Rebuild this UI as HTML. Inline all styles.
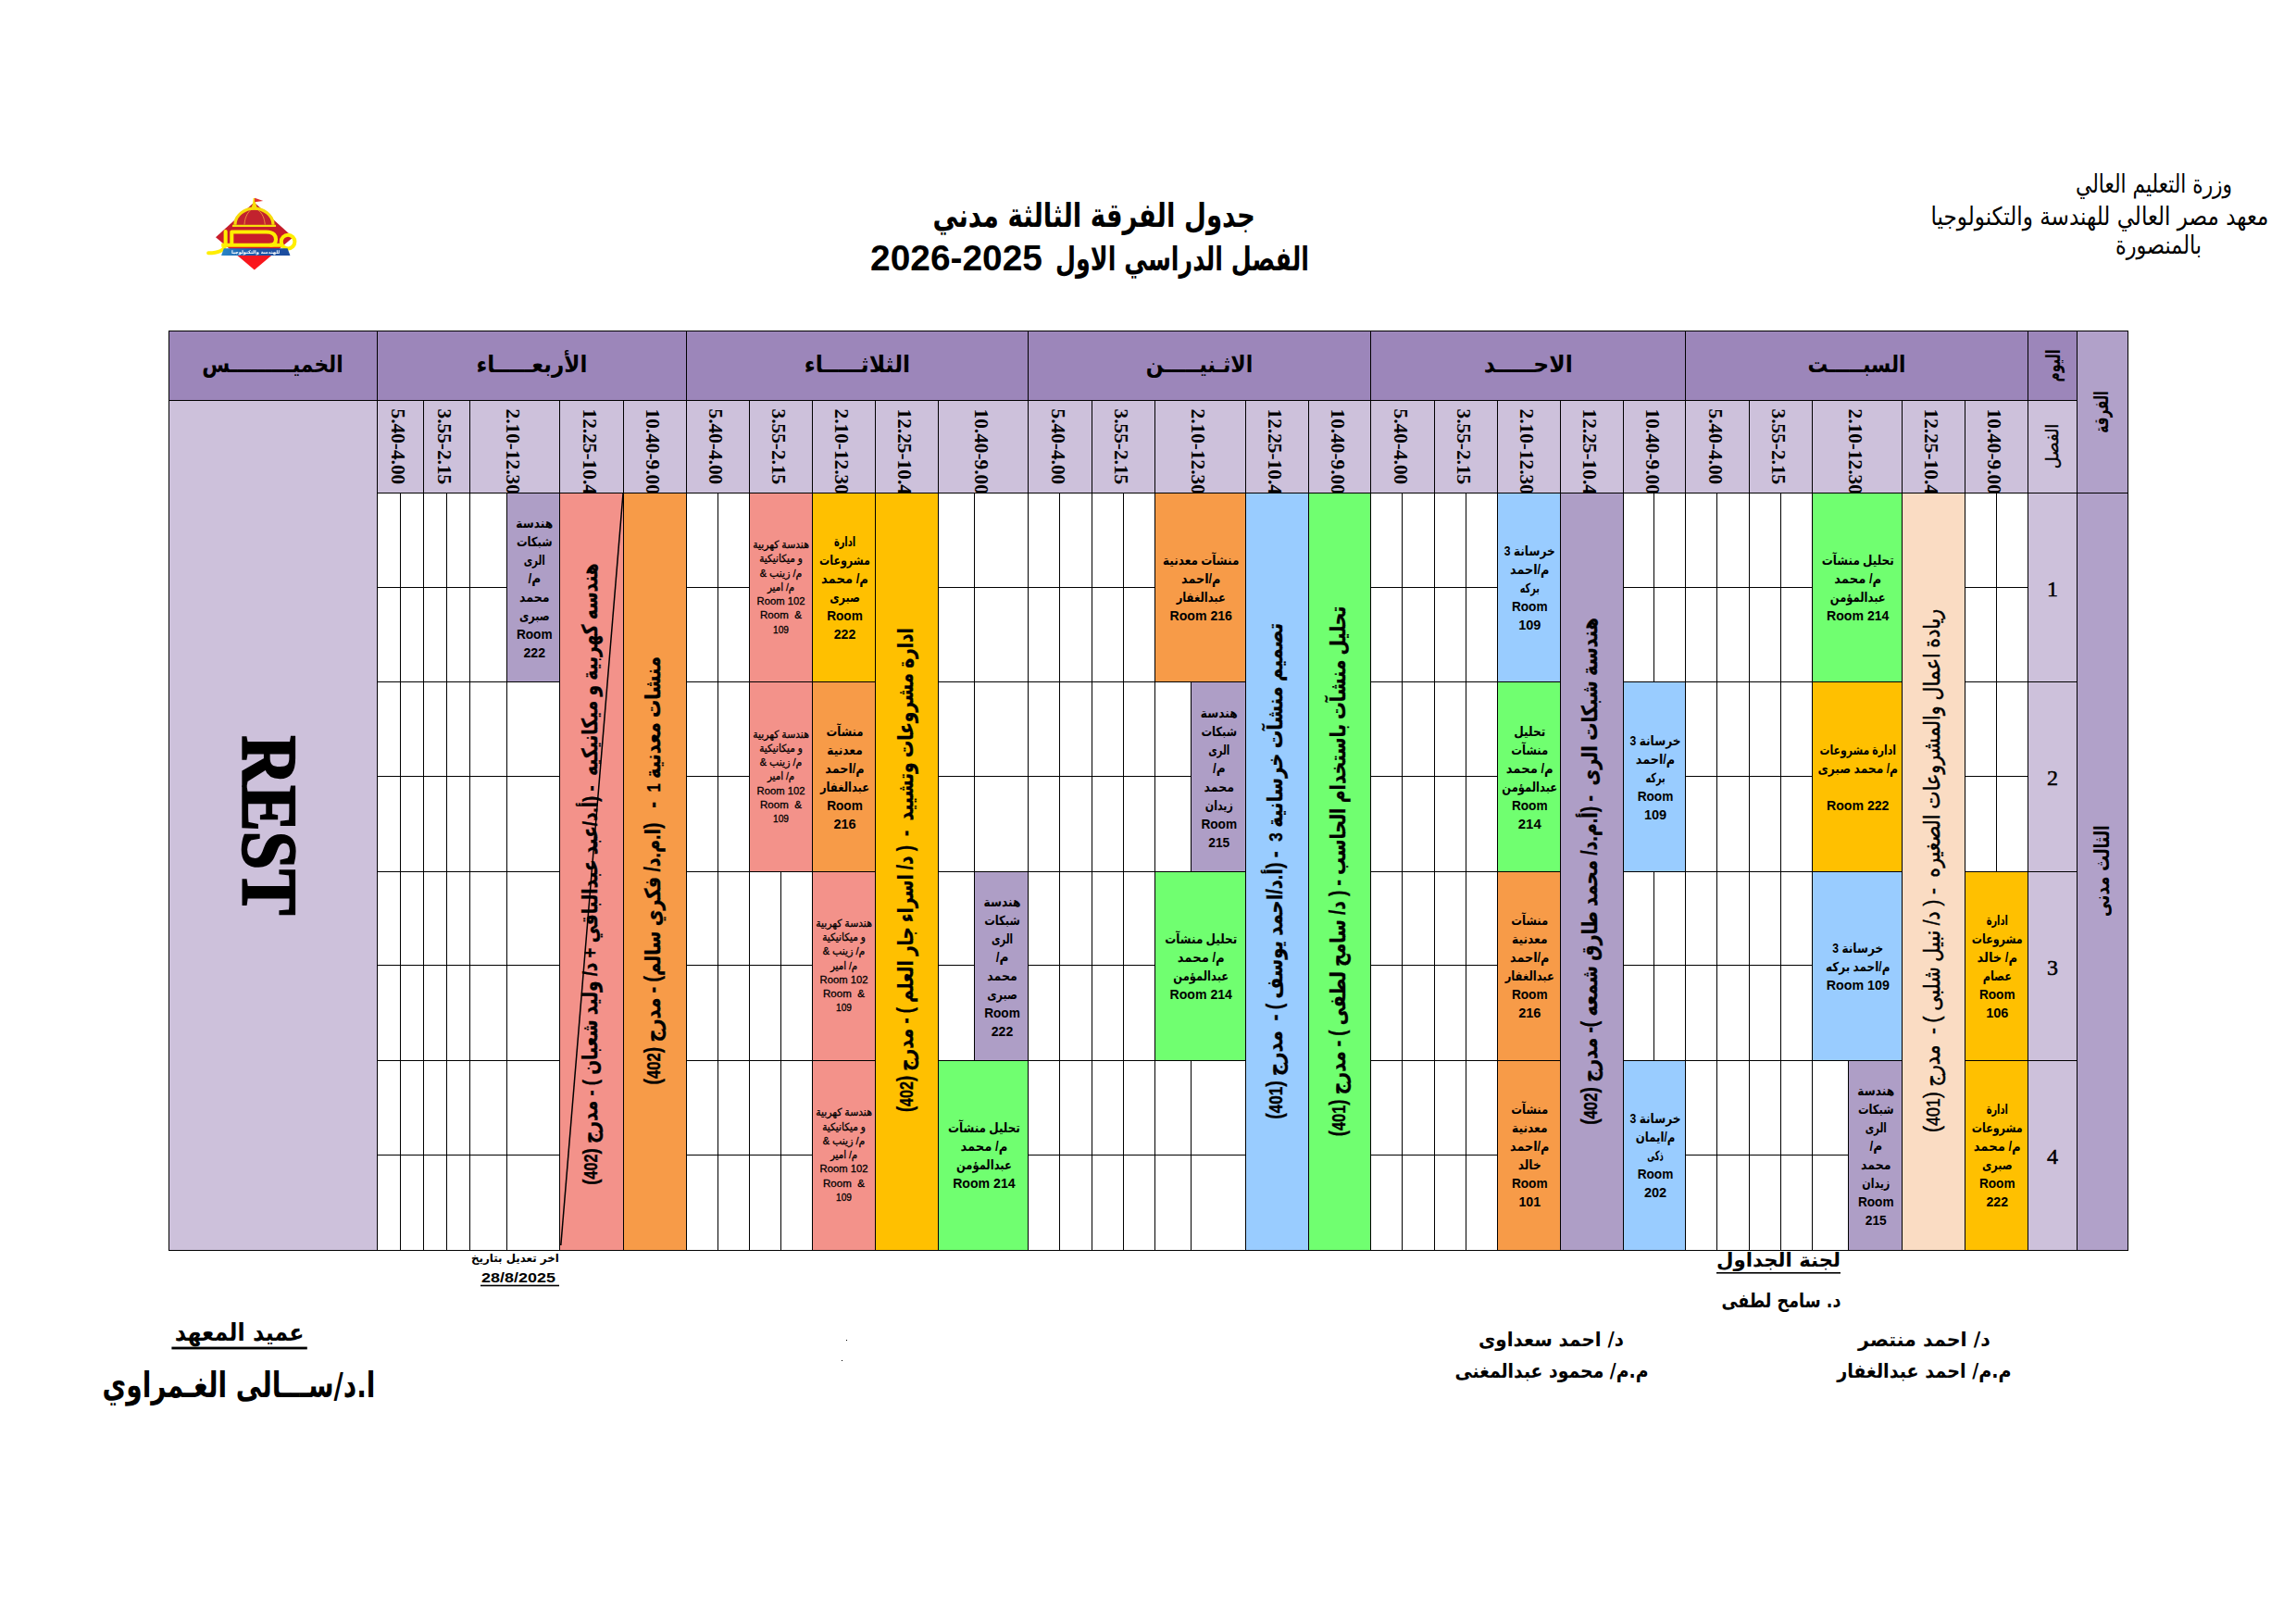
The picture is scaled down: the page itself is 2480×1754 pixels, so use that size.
<!DOCTYPE html>
<html lang="ar"><head><meta charset="utf-8"><title>جدول الفرقة الثالثة مدني</title>
<style>html,body{margin:0;padding:0;background:#fff}body{width:2480px;height:1754px;overflow:hidden}svg{display:block}text{fill:#000;white-space:pre}</style></head><body>
<svg width="2480" height="1754" viewBox="0 0 2480 1754">
<rect width="2480" height="1754" fill="#fff"/>
<defs><clipPath id="tc"><rect x="182" y="433" width="2010" height="99.5"/></clipPath></defs>
<g shape-rendering="crispEdges">
<rect x="182" y="357" width="2062" height="76" fill="#9C86BA"/>
<rect x="182" y="432" width="2062" height="101" fill="#CDC1DB"/>
<rect x="2243" y="357" width="56" height="994" fill="#B1A1C9"/>
<rect x="2190" y="532" width="54" height="819" fill="#CDC1DB"/>
<rect x="182" y="432" width="226" height="919" fill="#CDC1DB"/>
<rect x="1957" y="532" width="98" height="205" fill="#70FF70"/>
<rect x="1957" y="736" width="98" height="206" fill="#FFC000"/>
<rect x="1957" y="941" width="98" height="205" fill="#99CCFF"/>
<rect x="1996" y="1145" width="59" height="206" fill="#AE9EC6"/>
<rect x="2122" y="941" width="69" height="205" fill="#FFC000"/>
<rect x="2122" y="1145" width="69" height="206" fill="#FFC000"/>
<rect x="1753" y="736" width="68" height="206" fill="#99CCFF"/>
<rect x="1753" y="1145" width="68" height="206" fill="#99CCFF"/>
<rect x="1617" y="532" width="69" height="205" fill="#99CCFF"/>
<rect x="1617" y="736" width="69" height="206" fill="#70FF70"/>
<rect x="1617" y="941" width="69" height="205" fill="#F79B48"/>
<rect x="1617" y="1145" width="69" height="206" fill="#F79B48"/>
<rect x="1247" y="532" width="99" height="205" fill="#F79B48"/>
<rect x="1286" y="736" width="60" height="206" fill="#AE9EC6"/>
<rect x="1247" y="941" width="99" height="205" fill="#70FF70"/>
<rect x="1052" y="941" width="59" height="205" fill="#AE9EC6"/>
<rect x="1013" y="1145" width="98" height="206" fill="#70FF70"/>
<rect x="877" y="532" width="69" height="205" fill="#FFC000"/>
<rect x="877" y="736" width="69" height="206" fill="#F79B48"/>
<rect x="877" y="941" width="69" height="205" fill="#F3928A"/>
<rect x="877" y="1145" width="69" height="206" fill="#F3928A"/>
<rect x="809" y="532" width="69" height="205" fill="#F3928A"/>
<rect x="809" y="736" width="69" height="206" fill="#F3928A"/>
<rect x="547" y="532" width="58" height="205" fill="#AE9EC6"/>
<rect x="2054" y="532" width="69" height="819" fill="#FADCC3"/>
<rect x="1685" y="532" width="69" height="819" fill="#AE9EC6"/>
<rect x="1413" y="532" width="68" height="819" fill="#70FF70"/>
<rect x="1345" y="532" width="69" height="819" fill="#99CCFF"/>
<rect x="945" y="532" width="69" height="819" fill="#FFC000"/>
<rect x="673" y="532" width="69" height="819" fill="#F79B48"/>
<rect x="604" y="532" width="70" height="819" fill="#F3928A"/>
<g fill="#000">
<rect x="182" y="357" width="2117" height="1"/>
<rect x="182" y="432" width="2062" height="1"/>
<rect x="407" y="532" width="1892" height="1"/>
<rect x="182" y="1350" width="2117" height="1"/>
<rect x="182" y="357" width="1" height="994"/>
<rect x="2298" y="357" width="1" height="994"/>
<rect x="2243" y="357" width="1" height="994"/>
<rect x="2190" y="357" width="1" height="994"/>
<rect x="407" y="357" width="1" height="994"/>
<rect x="2190" y="736" width="54" height="1"/>
<rect x="2190" y="941" width="54" height="1"/>
<rect x="2190" y="1145" width="54" height="1"/>
<rect x="1820" y="357" width="1" height="994"/>
<rect x="2190" y="432" width="1" height="919"/>
<rect x="2156" y="532" width="1" height="205"/>
<rect x="2122" y="634" width="69" height="1"/>
<rect x="2122" y="736" width="69" height="1"/>
<rect x="2156" y="736" width="1" height="206"/>
<rect x="2122" y="838" width="69" height="1"/>
<rect x="2122" y="941" width="69" height="1"/>
<rect x="2122" y="1145" width="69" height="1"/>
<rect x="2122" y="432" width="1" height="919"/>
<rect x="2054" y="432" width="1" height="919"/>
<rect x="1957" y="736" width="98" height="1"/>
<rect x="1957" y="941" width="98" height="1"/>
<rect x="1957" y="1145" width="98" height="1"/>
<rect x="1996" y="1145" width="1" height="206"/>
<rect x="1957" y="1247" width="40" height="1"/>
<rect x="1957" y="432" width="1" height="919"/>
<rect x="1923" y="532" width="1" height="205"/>
<rect x="1889" y="634" width="69" height="1"/>
<rect x="1889" y="736" width="69" height="1"/>
<rect x="1923" y="736" width="1" height="206"/>
<rect x="1889" y="838" width="69" height="1"/>
<rect x="1889" y="941" width="69" height="1"/>
<rect x="1923" y="941" width="1" height="205"/>
<rect x="1889" y="1042" width="69" height="1"/>
<rect x="1889" y="1145" width="69" height="1"/>
<rect x="1923" y="1145" width="1" height="206"/>
<rect x="1889" y="1247" width="69" height="1"/>
<rect x="1889" y="432" width="1" height="919"/>
<rect x="1854" y="532" width="1" height="205"/>
<rect x="1820" y="634" width="70" height="1"/>
<rect x="1820" y="736" width="70" height="1"/>
<rect x="1854" y="736" width="1" height="206"/>
<rect x="1820" y="838" width="70" height="1"/>
<rect x="1820" y="941" width="70" height="1"/>
<rect x="1854" y="941" width="1" height="205"/>
<rect x="1820" y="1042" width="70" height="1"/>
<rect x="1820" y="1145" width="70" height="1"/>
<rect x="1854" y="1145" width="1" height="206"/>
<rect x="1820" y="1247" width="70" height="1"/>
<rect x="1480" y="357" width="1" height="994"/>
<rect x="1820" y="432" width="1" height="919"/>
<rect x="1786" y="532" width="1" height="205"/>
<rect x="1753" y="634" width="68" height="1"/>
<rect x="1753" y="736" width="68" height="1"/>
<rect x="1753" y="941" width="68" height="1"/>
<rect x="1786" y="941" width="1" height="205"/>
<rect x="1753" y="1042" width="68" height="1"/>
<rect x="1753" y="1145" width="68" height="1"/>
<rect x="1753" y="432" width="1" height="919"/>
<rect x="1685" y="432" width="1" height="919"/>
<rect x="1617" y="736" width="69" height="1"/>
<rect x="1617" y="941" width="69" height="1"/>
<rect x="1617" y="1145" width="69" height="1"/>
<rect x="1617" y="432" width="1" height="919"/>
<rect x="1583" y="532" width="1" height="205"/>
<rect x="1549" y="634" width="69" height="1"/>
<rect x="1549" y="736" width="69" height="1"/>
<rect x="1583" y="736" width="1" height="206"/>
<rect x="1549" y="838" width="69" height="1"/>
<rect x="1549" y="941" width="69" height="1"/>
<rect x="1583" y="941" width="1" height="205"/>
<rect x="1549" y="1042" width="69" height="1"/>
<rect x="1549" y="1145" width="69" height="1"/>
<rect x="1583" y="1145" width="1" height="206"/>
<rect x="1549" y="1247" width="69" height="1"/>
<rect x="1549" y="432" width="1" height="919"/>
<rect x="1514" y="532" width="1" height="205"/>
<rect x="1480" y="634" width="70" height="1"/>
<rect x="1480" y="736" width="70" height="1"/>
<rect x="1514" y="736" width="1" height="206"/>
<rect x="1480" y="838" width="70" height="1"/>
<rect x="1480" y="941" width="70" height="1"/>
<rect x="1514" y="941" width="1" height="205"/>
<rect x="1480" y="1042" width="70" height="1"/>
<rect x="1480" y="1145" width="70" height="1"/>
<rect x="1514" y="1145" width="1" height="206"/>
<rect x="1480" y="1247" width="70" height="1"/>
<rect x="1110" y="357" width="1" height="994"/>
<rect x="1480" y="432" width="1" height="919"/>
<rect x="1413" y="432" width="1" height="919"/>
<rect x="1345" y="432" width="1" height="919"/>
<rect x="1247" y="736" width="99" height="1"/>
<rect x="1286" y="736" width="1" height="206"/>
<rect x="1247" y="838" width="40" height="1"/>
<rect x="1247" y="941" width="99" height="1"/>
<rect x="1247" y="1145" width="99" height="1"/>
<rect x="1286" y="1145" width="1" height="206"/>
<rect x="1247" y="1247" width="99" height="1"/>
<rect x="1247" y="432" width="1" height="919"/>
<rect x="1213" y="532" width="1" height="205"/>
<rect x="1179" y="634" width="69" height="1"/>
<rect x="1179" y="736" width="69" height="1"/>
<rect x="1213" y="736" width="1" height="206"/>
<rect x="1179" y="838" width="69" height="1"/>
<rect x="1179" y="941" width="69" height="1"/>
<rect x="1213" y="941" width="1" height="205"/>
<rect x="1179" y="1042" width="69" height="1"/>
<rect x="1179" y="1145" width="69" height="1"/>
<rect x="1213" y="1145" width="1" height="206"/>
<rect x="1179" y="1247" width="69" height="1"/>
<rect x="1179" y="432" width="1" height="919"/>
<rect x="1144" y="532" width="1" height="205"/>
<rect x="1110" y="634" width="70" height="1"/>
<rect x="1110" y="736" width="70" height="1"/>
<rect x="1144" y="736" width="1" height="206"/>
<rect x="1110" y="838" width="70" height="1"/>
<rect x="1110" y="941" width="70" height="1"/>
<rect x="1144" y="941" width="1" height="205"/>
<rect x="1110" y="1042" width="70" height="1"/>
<rect x="1110" y="1145" width="70" height="1"/>
<rect x="1144" y="1145" width="1" height="206"/>
<rect x="1110" y="1247" width="70" height="1"/>
<rect x="741" y="357" width="1" height="994"/>
<rect x="1110" y="432" width="1" height="919"/>
<rect x="1052" y="532" width="1" height="205"/>
<rect x="1013" y="634" width="98" height="1"/>
<rect x="1013" y="736" width="98" height="1"/>
<rect x="1052" y="736" width="1" height="206"/>
<rect x="1013" y="838" width="98" height="1"/>
<rect x="1013" y="941" width="98" height="1"/>
<rect x="1052" y="941" width="1" height="205"/>
<rect x="1013" y="1042" width="40" height="1"/>
<rect x="1013" y="1145" width="98" height="1"/>
<rect x="1013" y="432" width="1" height="919"/>
<rect x="945" y="432" width="1" height="919"/>
<rect x="877" y="736" width="69" height="1"/>
<rect x="877" y="941" width="69" height="1"/>
<rect x="877" y="1145" width="69" height="1"/>
<rect x="877" y="432" width="1" height="919"/>
<rect x="809" y="736" width="69" height="1"/>
<rect x="809" y="941" width="69" height="1"/>
<rect x="843" y="941" width="1" height="205"/>
<rect x="809" y="1042" width="69" height="1"/>
<rect x="809" y="1145" width="69" height="1"/>
<rect x="843" y="1145" width="1" height="206"/>
<rect x="809" y="1247" width="69" height="1"/>
<rect x="809" y="432" width="1" height="919"/>
<rect x="775" y="532" width="1" height="205"/>
<rect x="741" y="634" width="69" height="1"/>
<rect x="741" y="736" width="69" height="1"/>
<rect x="775" y="736" width="1" height="206"/>
<rect x="741" y="838" width="69" height="1"/>
<rect x="741" y="941" width="69" height="1"/>
<rect x="775" y="941" width="1" height="205"/>
<rect x="741" y="1042" width="69" height="1"/>
<rect x="741" y="1145" width="69" height="1"/>
<rect x="775" y="1145" width="1" height="206"/>
<rect x="741" y="1247" width="69" height="1"/>
<rect x="407" y="357" width="1" height="994"/>
<rect x="741" y="432" width="1" height="919"/>
<rect x="673" y="432" width="1" height="919"/>
<rect x="604" y="432" width="1" height="919"/>
<rect x="547" y="532" width="1" height="205"/>
<rect x="507" y="634" width="41" height="1"/>
<rect x="507" y="736" width="98" height="1"/>
<rect x="547" y="736" width="1" height="206"/>
<rect x="507" y="838" width="98" height="1"/>
<rect x="507" y="941" width="98" height="1"/>
<rect x="547" y="941" width="1" height="205"/>
<rect x="507" y="1042" width="98" height="1"/>
<rect x="507" y="1145" width="98" height="1"/>
<rect x="547" y="1145" width="1" height="206"/>
<rect x="507" y="1247" width="98" height="1"/>
<rect x="507" y="432" width="1" height="919"/>
<rect x="482" y="532" width="1" height="205"/>
<rect x="457" y="634" width="51" height="1"/>
<rect x="457" y="736" width="51" height="1"/>
<rect x="482" y="736" width="1" height="206"/>
<rect x="457" y="838" width="51" height="1"/>
<rect x="457" y="941" width="51" height="1"/>
<rect x="482" y="941" width="1" height="205"/>
<rect x="457" y="1042" width="51" height="1"/>
<rect x="457" y="1145" width="51" height="1"/>
<rect x="482" y="1145" width="1" height="206"/>
<rect x="457" y="1247" width="51" height="1"/>
<rect x="457" y="432" width="1" height="919"/>
<rect x="432" y="532" width="1" height="205"/>
<rect x="407" y="634" width="51" height="1"/>
<rect x="407" y="736" width="51" height="1"/>
<rect x="432" y="736" width="1" height="206"/>
<rect x="407" y="838" width="51" height="1"/>
<rect x="407" y="941" width="51" height="1"/>
<rect x="432" y="941" width="1" height="205"/>
<rect x="407" y="1042" width="51" height="1"/>
<rect x="407" y="1145" width="51" height="1"/>
<rect x="432" y="1145" width="1" height="206"/>
<rect x="407" y="1247" width="51" height="1"/>
</g></g>
<line x1="673.0" y1="533.0" x2="605.8" y2="1345.0" stroke="#000" stroke-width="1.5"/>
<defs>
<linearGradient id="lgR" x1="0" y1="0" x2="0" y2="1"><stop offset="0" stop-color="#B8202C"/><stop offset="0.62" stop-color="#CC1E2C"/><stop offset="0.75" stop-color="#F01422"/><stop offset="1" stop-color="#FF1A1A"/></linearGradient>
<linearGradient id="lgB" x1="0" y1="0" x2="1" y2="0"><stop offset="0" stop-color="#2A86C8"/><stop offset="0.5" stop-color="#1B55A6"/><stop offset="1" stop-color="#1A4C9E"/></linearGradient>
<filter id="lgF" x="-5%" y="-5%" width="110%" height="110%"><feGaussianBlur stdDeviation="7"/></filter>
</defs>
<g transform="translate(200,200) scale(0.06533)" filter="url(#lgF)">
<polygon points="505,860 1140,285 1785,860 1145,1400" fill="url(#lgR)"/>
<path d="M 812 660 C 812 470 1000 372 1140 372 C 1280 372 1468 470 1468 660 Z" fill="#C2222E"/>
<path d="M 980 650 C 985 540 1030 460 1075 420 M 1320 650 C 1310 540 1270 460 1215 420" fill="none" stroke="#EE9A3A" stroke-width="14"/>
<path d="M 825 655 C 825 480 1000 385 1140 385 C 1280 385 1455 480 1455 655" fill="none" stroke="#F7DC08" stroke-width="48"/>
<polygon points="1085,405 1118,300 1128,215 1152,215 1166,300 1200,405" fill="#F7DC08"/>
<polygon points="1150,212 1290,262 1150,278" fill="#E03030"/>
<rect x="780" y="655" width="720" height="34" fill="#F7E010"/>
<g fill="none" stroke="#FFEE00" stroke-width="62" stroke-linejoin="round" stroke-linecap="butt">
<path d="M 770 990 L 770 772 L 1340 772 C 1480 772 1500 850 1500 895 C 1500 955 1470 990 1400 990"/>
<path d="M 600 990 L 1610 990"/>
<path d="M 668 765 L 668 960 C 668 1085 520 1122 385 1122" stroke-linecap="round"/>
<circle cx="1700" cy="935" r="112"/>
</g>
<polygon points="640,1045 1692,1045 1736,1162 598,1162" fill="url(#lgB)"/>
<text x="1165" y="1132" text-anchor="middle" direction="rtl" style='font-family:"DejaVu Sans",sans-serif;font-size:78px;font-weight:bold;fill:#fff'>للهندسة والتكنولوجيا</text>
</g>
<text id="t0" transform="translate(2006.75,605.52) scale(0.8560,1.0)" y="4.62" text-anchor="middle" direction="rtl" style='font-family:"Liberation Sans","DejaVu Sans",sans-serif;font-size:14px;font-weight:bold'>تحليل منشآت</text>
<text id="t1" transform="translate(2006.75,625.52) scale(0.9396,1.0)" y="4.62" text-anchor="middle" direction="rtl" style='font-family:"Liberation Sans","DejaVu Sans",sans-serif;font-size:14px;font-weight:bold'>م/ محمد</text>
<text id="t2" transform="translate(2006.75,645.52) scale(0.8235,1.0)" y="4.62" text-anchor="middle" direction="rtl" style='font-family:"Liberation Sans","DejaVu Sans",sans-serif;font-size:14px;font-weight:bold'>عبدالمؤمن</text>
<text id="t3" transform="translate(2006.75,665.52) scale(1.0086,1.0)" y="4.62" text-anchor="middle" direction="rtl" style='font-family:"Liberation Sans","DejaVu Sans",sans-serif;font-size:14px;font-weight:bold'>Room 214</text>
<text id="t4" transform="translate(2006.75,809.90) scale(0.7767,1.0)" y="4.62" text-anchor="middle" direction="rtl" style='font-family:"Liberation Sans","DejaVu Sans",sans-serif;font-size:14px;font-weight:bold'>ادارة مشروعات</text>
<text id="t5" transform="translate(2006.75,829.90) scale(0.8767,1.0)" y="4.62" text-anchor="middle" direction="rtl" style='font-family:"Liberation Sans","DejaVu Sans",sans-serif;font-size:14px;font-weight:bold'>م/ محمد صبرى</text>
<text id="t6" transform="translate(2006.75,869.90) scale(1.0086,1.0)" y="4.62" text-anchor="middle" direction="rtl" style='font-family:"Liberation Sans","DejaVu Sans",sans-serif;font-size:14px;font-weight:bold'>Room 222</text>
<text id="t7" transform="translate(2006.75,1024.28) scale(0.8694,1.0)" y="4.62" text-anchor="middle" direction="rtl" style='font-family:"Liberation Sans","DejaVu Sans",sans-serif;font-size:14px;font-weight:bold'>خرسانة 3</text>
<text id="t8" transform="translate(2006.75,1044.28) scale(0.8580,1.0)" y="4.62" text-anchor="middle" direction="rtl" style='font-family:"Liberation Sans","DejaVu Sans",sans-serif;font-size:14px;font-weight:bold'>م/احمد بركه</text>
<text id="t9" transform="translate(2006.75,1064.28) scale(1.0198,1.0)" y="4.62" text-anchor="middle" direction="rtl" style='font-family:"Liberation Sans","DejaVu Sans",sans-serif;font-size:14px;font-weight:bold'>Room 109</text>
<text id="t10" transform="translate(2026.25,1178.65) scale(0.8737,1.0)" y="4.62" text-anchor="middle" direction="rtl" style='font-family:"Liberation Sans","DejaVu Sans",sans-serif;font-size:14px;font-weight:bold'>هندسة</text>
<text id="t11" transform="translate(2026.25,1198.65) scale(0.8253,1.0)" y="4.62" text-anchor="middle" direction="rtl" style='font-family:"Liberation Sans","DejaVu Sans",sans-serif;font-size:14px;font-weight:bold'>شبكات</text>
<text id="t12" transform="translate(2026.25,1218.65) scale(0.7355,1.0)" y="4.62" text-anchor="middle" direction="rtl" style='font-family:"Liberation Sans","DejaVu Sans",sans-serif;font-size:14px;font-weight:bold'>الرى</text>
<text id="t13" transform="translate(2026.25,1238.65) scale(0.9713,1.0)" y="4.62" text-anchor="middle" direction="rtl" style='font-family:"Liberation Sans","DejaVu Sans",sans-serif;font-size:14px;font-weight:bold'>م/</text>
<text id="t14" transform="translate(2026.25,1258.65) scale(0.8969,1.0)" y="4.62" text-anchor="middle" direction="rtl" style='font-family:"Liberation Sans","DejaVu Sans",sans-serif;font-size:14px;font-weight:bold'>محمد</text>
<text id="t15" transform="translate(2026.25,1278.65) scale(0.7862,1.0)" y="4.62" text-anchor="middle" direction="rtl" style='font-family:"Liberation Sans","DejaVu Sans",sans-serif;font-size:14px;font-weight:bold'>زيدان</text>
<text id="t16" transform="translate(2026.25,1298.65) scale(0.9768,1.0)" y="4.62" text-anchor="middle" direction="rtl" style='font-family:"Liberation Sans","DejaVu Sans",sans-serif;font-size:14px;font-weight:bold'>Room</text>
<text id="t17" transform="translate(2026.25,1318.65) scale(0.9846,1.0)" y="4.62" text-anchor="middle" direction="rtl" style='font-family:"Liberation Sans","DejaVu Sans",sans-serif;font-size:14px;font-weight:bold'>215</text>
<text id="t18" transform="translate(2157.25,994.28) scale(0.7022,1.0)" y="4.62" text-anchor="middle" direction="rtl" style='font-family:"Liberation Sans","DejaVu Sans",sans-serif;font-size:14px;font-weight:bold'>ادارة</text>
<text id="t19" transform="translate(2157.25,1014.28) scale(0.7946,1.0)" y="4.62" text-anchor="middle" direction="rtl" style='font-family:"Liberation Sans","DejaVu Sans",sans-serif;font-size:14px;font-weight:bold'>مشروعات</text>
<text id="t20" transform="translate(2157.25,1034.28) scale(0.9361,1.0)" y="4.62" text-anchor="middle" direction="rtl" style='font-family:"Liberation Sans","DejaVu Sans",sans-serif;font-size:14px;font-weight:bold'>م/ خالد</text>
<text id="t21" transform="translate(2157.25,1054.28) scale(0.8035,1.0)" y="4.62" text-anchor="middle" direction="rtl" style='font-family:"Liberation Sans","DejaVu Sans",sans-serif;font-size:14px;font-weight:bold'>عصام</text>
<text id="t22" transform="translate(2157.25,1074.28) scale(0.9768,1.0)" y="4.62" text-anchor="middle" direction="rtl" style='font-family:"Liberation Sans","DejaVu Sans",sans-serif;font-size:14px;font-weight:bold'>Room</text>
<text id="t23" transform="translate(2157.25,1094.28) scale(1.0381,1.0)" y="4.62" text-anchor="middle" direction="rtl" style='font-family:"Liberation Sans","DejaVu Sans",sans-serif;font-size:14px;font-weight:bold'>106</text>
<text id="t24" transform="translate(2157.25,1198.65) scale(0.7022,1.0)" y="4.62" text-anchor="middle" direction="rtl" style='font-family:"Liberation Sans","DejaVu Sans",sans-serif;font-size:14px;font-weight:bold'>ادارة</text>
<text id="t25" transform="translate(2157.25,1218.65) scale(0.7946,1.0)" y="4.62" text-anchor="middle" direction="rtl" style='font-family:"Liberation Sans","DejaVu Sans",sans-serif;font-size:14px;font-weight:bold'>مشروعات</text>
<text id="t26" transform="translate(2157.25,1238.65) scale(0.9396,1.0)" y="4.62" text-anchor="middle" direction="rtl" style='font-family:"Liberation Sans","DejaVu Sans",sans-serif;font-size:14px;font-weight:bold'>م/ محمد</text>
<text id="t27" transform="translate(2157.25,1258.65) scale(0.8028,1.0)" y="4.62" text-anchor="middle" direction="rtl" style='font-family:"Liberation Sans","DejaVu Sans",sans-serif;font-size:14px;font-weight:bold'>صبرى</text>
<text id="t28" transform="translate(2157.25,1278.65) scale(0.9768,1.0)" y="4.62" text-anchor="middle" direction="rtl" style='font-family:"Liberation Sans","DejaVu Sans",sans-serif;font-size:14px;font-weight:bold'>Room</text>
<text id="t29" transform="translate(2157.25,1298.65) scale(1.0060,1.0)" y="4.62" text-anchor="middle" direction="rtl" style='font-family:"Liberation Sans","DejaVu Sans",sans-serif;font-size:14px;font-weight:bold'>222</text>
<text id="t30" transform="translate(1788.00,799.90) scale(0.8694,1.0)" y="4.62" text-anchor="middle" direction="rtl" style='font-family:"Liberation Sans","DejaVu Sans",sans-serif;font-size:14px;font-weight:bold'>خرسانة 3</text>
<text id="t31" transform="translate(1788.00,819.90) scale(0.9137,1.0)" y="4.62" text-anchor="middle" direction="rtl" style='font-family:"Liberation Sans","DejaVu Sans",sans-serif;font-size:14px;font-weight:bold'>م/احمد</text>
<text id="t32" transform="translate(1788.00,839.90) scale(0.6942,1.0)" y="4.62" text-anchor="middle" direction="rtl" style='font-family:"Liberation Sans","DejaVu Sans",sans-serif;font-size:14px;font-weight:bold'>بركه</text>
<text id="t33" transform="translate(1788.00,859.90) scale(0.9768,1.0)" y="4.62" text-anchor="middle" direction="rtl" style='font-family:"Liberation Sans","DejaVu Sans",sans-serif;font-size:14px;font-weight:bold'>Room</text>
<text id="t34" transform="translate(1788.00,879.90) scale(1.0381,1.0)" y="4.62" text-anchor="middle" direction="rtl" style='font-family:"Liberation Sans","DejaVu Sans",sans-serif;font-size:14px;font-weight:bold'>109</text>
<text id="t35" transform="translate(1788.00,1208.65) scale(0.8694,1.0)" y="4.62" text-anchor="middle" direction="rtl" style='font-family:"Liberation Sans","DejaVu Sans",sans-serif;font-size:14px;font-weight:bold'>خرسانة 3</text>
<text id="t36" transform="translate(1788.00,1228.65) scale(0.8364,1.0)" y="4.62" text-anchor="middle" direction="rtl" style='font-family:"Liberation Sans","DejaVu Sans",sans-serif;font-size:14px;font-weight:bold'>م/ايمان</text>
<text id="t37" transform="translate(1788.00,1248.65) scale(0.5932,1.0)" y="4.62" text-anchor="middle" direction="rtl" style='font-family:"Liberation Sans","DejaVu Sans",sans-serif;font-size:14px;font-weight:bold'>ذكى</text>
<text id="t38" transform="translate(1788.00,1268.65) scale(0.9768,1.0)" y="4.62" text-anchor="middle" direction="rtl" style='font-family:"Liberation Sans","DejaVu Sans",sans-serif;font-size:14px;font-weight:bold'>Room</text>
<text id="t39" transform="translate(1788.00,1288.65) scale(1.0381,1.0)" y="4.62" text-anchor="middle" direction="rtl" style='font-family:"Liberation Sans","DejaVu Sans",sans-serif;font-size:14px;font-weight:bold'>202</text>
<text id="t40" transform="translate(1652.25,595.52) scale(0.8694,1.0)" y="4.62" text-anchor="middle" direction="rtl" style='font-family:"Liberation Sans","DejaVu Sans",sans-serif;font-size:14px;font-weight:bold'>خرسانة 3</text>
<text id="t41" transform="translate(1652.25,615.52) scale(0.9137,1.0)" y="4.62" text-anchor="middle" direction="rtl" style='font-family:"Liberation Sans","DejaVu Sans",sans-serif;font-size:14px;font-weight:bold'>م/احمد</text>
<text id="t42" transform="translate(1652.25,635.52) scale(0.6942,1.0)" y="4.62" text-anchor="middle" direction="rtl" style='font-family:"Liberation Sans","DejaVu Sans",sans-serif;font-size:14px;font-weight:bold'>بركه</text>
<text id="t43" transform="translate(1652.25,655.52) scale(0.9768,1.0)" y="4.62" text-anchor="middle" direction="rtl" style='font-family:"Liberation Sans","DejaVu Sans",sans-serif;font-size:14px;font-weight:bold'>Room</text>
<text id="t44" transform="translate(1652.25,675.52) scale(1.0381,1.0)" y="4.62" text-anchor="middle" direction="rtl" style='font-family:"Liberation Sans","DejaVu Sans",sans-serif;font-size:14px;font-weight:bold'>109</text>
<text id="t45" transform="translate(1652.25,789.90) scale(0.8681,1.0)" y="4.62" text-anchor="middle" direction="rtl" style='font-family:"Liberation Sans","DejaVu Sans",sans-serif;font-size:14px;font-weight:bold'>تحليل</text>
<text id="t46" transform="translate(1652.25,809.90) scale(0.8339,1.0)" y="4.62" text-anchor="middle" direction="rtl" style='font-family:"Liberation Sans","DejaVu Sans",sans-serif;font-size:14px;font-weight:bold'>منشآت</text>
<text id="t47" transform="translate(1652.25,829.90) scale(0.9396,1.0)" y="4.62" text-anchor="middle" direction="rtl" style='font-family:"Liberation Sans","DejaVu Sans",sans-serif;font-size:14px;font-weight:bold'>م/ محمد</text>
<text id="t48" transform="translate(1652.25,849.90) scale(0.8235,1.0)" y="4.62" text-anchor="middle" direction="rtl" style='font-family:"Liberation Sans","DejaVu Sans",sans-serif;font-size:14px;font-weight:bold'>عبدالمؤمن</text>
<text id="t49" transform="translate(1652.25,869.90) scale(0.9768,1.0)" y="4.62" text-anchor="middle" direction="rtl" style='font-family:"Liberation Sans","DejaVu Sans",sans-serif;font-size:14px;font-weight:bold'>Room</text>
<text id="t50" transform="translate(1652.25,889.90) scale(1.0702,1.0)" y="4.62" text-anchor="middle" direction="rtl" style='font-family:"Liberation Sans","DejaVu Sans",sans-serif;font-size:14px;font-weight:bold'>214</text>
<text id="t51" transform="translate(1652.25,994.28) scale(0.8339,1.0)" y="4.62" text-anchor="middle" direction="rtl" style='font-family:"Liberation Sans","DejaVu Sans",sans-serif;font-size:14px;font-weight:bold'>منشآت</text>
<text id="t52" transform="translate(1652.25,1014.28) scale(0.8725,1.0)" y="4.62" text-anchor="middle" direction="rtl" style='font-family:"Liberation Sans","DejaVu Sans",sans-serif;font-size:14px;font-weight:bold'>معدنية</text>
<text id="t53" transform="translate(1652.25,1034.28) scale(0.9137,1.0)" y="4.62" text-anchor="middle" direction="rtl" style='font-family:"Liberation Sans","DejaVu Sans",sans-serif;font-size:14px;font-weight:bold'>م/احمد</text>
<text id="t54" transform="translate(1652.25,1054.28) scale(0.8228,1.0)" y="4.62" text-anchor="middle" direction="rtl" style='font-family:"Liberation Sans","DejaVu Sans",sans-serif;font-size:14px;font-weight:bold'>عبدالغفار</text>
<text id="t55" transform="translate(1652.25,1074.28) scale(0.9768,1.0)" y="4.62" text-anchor="middle" direction="rtl" style='font-family:"Liberation Sans","DejaVu Sans",sans-serif;font-size:14px;font-weight:bold'>Room</text>
<text id="t56" transform="translate(1652.25,1094.28) scale(1.0381,1.0)" y="4.62" text-anchor="middle" direction="rtl" style='font-family:"Liberation Sans","DejaVu Sans",sans-serif;font-size:14px;font-weight:bold'>216</text>
<text id="t57" transform="translate(1652.25,1198.65) scale(0.8339,1.0)" y="4.62" text-anchor="middle" direction="rtl" style='font-family:"Liberation Sans","DejaVu Sans",sans-serif;font-size:14px;font-weight:bold'>منشآت</text>
<text id="t58" transform="translate(1652.25,1218.65) scale(0.8725,1.0)" y="4.62" text-anchor="middle" direction="rtl" style='font-family:"Liberation Sans","DejaVu Sans",sans-serif;font-size:14px;font-weight:bold'>معدنية</text>
<text id="t59" transform="translate(1652.25,1238.65) scale(0.9137,1.0)" y="4.62" text-anchor="middle" direction="rtl" style='font-family:"Liberation Sans","DejaVu Sans",sans-serif;font-size:14px;font-weight:bold'>م/احمد</text>
<text id="t60" transform="translate(1652.25,1258.65) scale(0.8710,1.0)" y="4.62" text-anchor="middle" direction="rtl" style='font-family:"Liberation Sans","DejaVu Sans",sans-serif;font-size:14px;font-weight:bold'>خالد</text>
<text id="t61" transform="translate(1652.25,1278.65) scale(0.9768,1.0)" y="4.62" text-anchor="middle" direction="rtl" style='font-family:"Liberation Sans","DejaVu Sans",sans-serif;font-size:14px;font-weight:bold'>Room</text>
<text id="t62" transform="translate(1652.25,1298.65) scale(1.0167,1.0)" y="4.62" text-anchor="middle" direction="rtl" style='font-family:"Liberation Sans","DejaVu Sans",sans-serif;font-size:14px;font-weight:bold'>101</text>
<text id="t63" transform="translate(1297.25,605.52) scale(0.8597,1.0)" y="4.62" text-anchor="middle" direction="rtl" style='font-family:"Liberation Sans","DejaVu Sans",sans-serif;font-size:14px;font-weight:bold'>منشآت معدنية</text>
<text id="t64" transform="translate(1297.25,625.52) scale(0.9137,1.0)" y="4.62" text-anchor="middle" direction="rtl" style='font-family:"Liberation Sans","DejaVu Sans",sans-serif;font-size:14px;font-weight:bold'>م/احمد</text>
<text id="t65" transform="translate(1297.25,645.52) scale(0.8228,1.0)" y="4.62" text-anchor="middle" direction="rtl" style='font-family:"Liberation Sans","DejaVu Sans",sans-serif;font-size:14px;font-weight:bold'>عبدالغفار</text>
<text id="t66" transform="translate(1297.25,665.52) scale(1.0086,1.0)" y="4.62" text-anchor="middle" direction="rtl" style='font-family:"Liberation Sans","DejaVu Sans",sans-serif;font-size:14px;font-weight:bold'>Room 216</text>
<text id="t67" transform="translate(1316.75,769.90) scale(0.8737,1.0)" y="4.62" text-anchor="middle" direction="rtl" style='font-family:"Liberation Sans","DejaVu Sans",sans-serif;font-size:14px;font-weight:bold'>هندسة</text>
<text id="t68" transform="translate(1316.75,789.90) scale(0.8253,1.0)" y="4.62" text-anchor="middle" direction="rtl" style='font-family:"Liberation Sans","DejaVu Sans",sans-serif;font-size:14px;font-weight:bold'>شبكات</text>
<text id="t69" transform="translate(1316.75,809.90) scale(0.7355,1.0)" y="4.62" text-anchor="middle" direction="rtl" style='font-family:"Liberation Sans","DejaVu Sans",sans-serif;font-size:14px;font-weight:bold'>الرى</text>
<text id="t70" transform="translate(1316.75,829.90) scale(0.9713,1.0)" y="4.62" text-anchor="middle" direction="rtl" style='font-family:"Liberation Sans","DejaVu Sans",sans-serif;font-size:14px;font-weight:bold'>م/</text>
<text id="t71" transform="translate(1316.75,849.90) scale(0.8969,1.0)" y="4.62" text-anchor="middle" direction="rtl" style='font-family:"Liberation Sans","DejaVu Sans",sans-serif;font-size:14px;font-weight:bold'>محمد</text>
<text id="t72" transform="translate(1316.75,869.90) scale(0.7862,1.0)" y="4.62" text-anchor="middle" direction="rtl" style='font-family:"Liberation Sans","DejaVu Sans",sans-serif;font-size:14px;font-weight:bold'>زيدان</text>
<text id="t73" transform="translate(1316.75,889.90) scale(0.9768,1.0)" y="4.62" text-anchor="middle" direction="rtl" style='font-family:"Liberation Sans","DejaVu Sans",sans-serif;font-size:14px;font-weight:bold'>Room</text>
<text id="t74" transform="translate(1316.75,909.90) scale(0.9846,1.0)" y="4.62" text-anchor="middle" direction="rtl" style='font-family:"Liberation Sans","DejaVu Sans",sans-serif;font-size:14px;font-weight:bold'>215</text>
<text id="t75" transform="translate(1297.25,1014.28) scale(0.8560,1.0)" y="4.62" text-anchor="middle" direction="rtl" style='font-family:"Liberation Sans","DejaVu Sans",sans-serif;font-size:14px;font-weight:bold'>تحليل منشآت</text>
<text id="t76" transform="translate(1297.25,1034.28) scale(0.9396,1.0)" y="4.62" text-anchor="middle" direction="rtl" style='font-family:"Liberation Sans","DejaVu Sans",sans-serif;font-size:14px;font-weight:bold'>م/ محمد</text>
<text id="t77" transform="translate(1297.25,1054.28) scale(0.8235,1.0)" y="4.62" text-anchor="middle" direction="rtl" style='font-family:"Liberation Sans","DejaVu Sans",sans-serif;font-size:14px;font-weight:bold'>عبدالمؤمن</text>
<text id="t78" transform="translate(1297.25,1074.28) scale(1.0086,1.0)" y="4.62" text-anchor="middle" direction="rtl" style='font-family:"Liberation Sans","DejaVu Sans",sans-serif;font-size:14px;font-weight:bold'>Room 214</text>
<text id="t79" transform="translate(1082.50,974.28) scale(0.8737,1.0)" y="4.62" text-anchor="middle" direction="rtl" style='font-family:"Liberation Sans","DejaVu Sans",sans-serif;font-size:14px;font-weight:bold'>هندسة</text>
<text id="t80" transform="translate(1082.50,994.28) scale(0.8253,1.0)" y="4.62" text-anchor="middle" direction="rtl" style='font-family:"Liberation Sans","DejaVu Sans",sans-serif;font-size:14px;font-weight:bold'>شبكات</text>
<text id="t81" transform="translate(1082.50,1014.28) scale(0.7355,1.0)" y="4.62" text-anchor="middle" direction="rtl" style='font-family:"Liberation Sans","DejaVu Sans",sans-serif;font-size:14px;font-weight:bold'>الرى</text>
<text id="t82" transform="translate(1082.50,1034.28) scale(0.9713,1.0)" y="4.62" text-anchor="middle" direction="rtl" style='font-family:"Liberation Sans","DejaVu Sans",sans-serif;font-size:14px;font-weight:bold'>م/</text>
<text id="t83" transform="translate(1082.50,1054.28) scale(0.8969,1.0)" y="4.62" text-anchor="middle" direction="rtl" style='font-family:"Liberation Sans","DejaVu Sans",sans-serif;font-size:14px;font-weight:bold'>محمد</text>
<text id="t84" transform="translate(1082.50,1074.28) scale(0.8028,1.0)" y="4.62" text-anchor="middle" direction="rtl" style='font-family:"Liberation Sans","DejaVu Sans",sans-serif;font-size:14px;font-weight:bold'>صبرى</text>
<text id="t85" transform="translate(1082.50,1094.28) scale(0.9768,1.0)" y="4.62" text-anchor="middle" direction="rtl" style='font-family:"Liberation Sans","DejaVu Sans",sans-serif;font-size:14px;font-weight:bold'>Room</text>
<text id="t86" transform="translate(1082.50,1114.28) scale(1.0060,1.0)" y="4.62" text-anchor="middle" direction="rtl" style='font-family:"Liberation Sans","DejaVu Sans",sans-serif;font-size:14px;font-weight:bold'>222</text>
<text id="t87" transform="translate(1062.88,1218.65) scale(0.8560,1.0)" y="4.62" text-anchor="middle" direction="rtl" style='font-family:"Liberation Sans","DejaVu Sans",sans-serif;font-size:14px;font-weight:bold'>تحليل منشآت</text>
<text id="t88" transform="translate(1062.88,1238.65) scale(0.9396,1.0)" y="4.62" text-anchor="middle" direction="rtl" style='font-family:"Liberation Sans","DejaVu Sans",sans-serif;font-size:14px;font-weight:bold'>م/ محمد</text>
<text id="t89" transform="translate(1062.88,1258.65) scale(0.8235,1.0)" y="4.62" text-anchor="middle" direction="rtl" style='font-family:"Liberation Sans","DejaVu Sans",sans-serif;font-size:14px;font-weight:bold'>عبدالمؤمن</text>
<text id="t90" transform="translate(1062.88,1278.65) scale(1.0086,1.0)" y="4.62" text-anchor="middle" direction="rtl" style='font-family:"Liberation Sans","DejaVu Sans",sans-serif;font-size:14px;font-weight:bold'>Room 214</text>
<text id="t91" transform="translate(912.50,585.52) scale(0.7022,1.0)" y="4.62" text-anchor="middle" direction="rtl" style='font-family:"Liberation Sans","DejaVu Sans",sans-serif;font-size:14px;font-weight:bold'>ادارة</text>
<text id="t92" transform="translate(912.50,605.52) scale(0.7946,1.0)" y="4.62" text-anchor="middle" direction="rtl" style='font-family:"Liberation Sans","DejaVu Sans",sans-serif;font-size:14px;font-weight:bold'>مشروعات</text>
<text id="t93" transform="translate(912.50,625.52) scale(0.9396,1.0)" y="4.62" text-anchor="middle" direction="rtl" style='font-family:"Liberation Sans","DejaVu Sans",sans-serif;font-size:14px;font-weight:bold'>م/ محمد</text>
<text id="t94" transform="translate(912.50,645.52) scale(0.8028,1.0)" y="4.62" text-anchor="middle" direction="rtl" style='font-family:"Liberation Sans","DejaVu Sans",sans-serif;font-size:14px;font-weight:bold'>صبرى</text>
<text id="t95" transform="translate(912.50,665.52) scale(0.9768,1.0)" y="4.62" text-anchor="middle" direction="rtl" style='font-family:"Liberation Sans","DejaVu Sans",sans-serif;font-size:14px;font-weight:bold'>Room</text>
<text id="t96" transform="translate(912.50,685.52) scale(1.0060,1.0)" y="4.62" text-anchor="middle" direction="rtl" style='font-family:"Liberation Sans","DejaVu Sans",sans-serif;font-size:14px;font-weight:bold'>222</text>
<text id="t97" transform="translate(912.50,789.90) scale(0.8339,1.0)" y="4.62" text-anchor="middle" direction="rtl" style='font-family:"Liberation Sans","DejaVu Sans",sans-serif;font-size:14px;font-weight:bold'>منشآت</text>
<text id="t98" transform="translate(912.50,809.90) scale(0.8725,1.0)" y="4.62" text-anchor="middle" direction="rtl" style='font-family:"Liberation Sans","DejaVu Sans",sans-serif;font-size:14px;font-weight:bold'>معدنية</text>
<text id="t99" transform="translate(912.50,829.90) scale(0.9137,1.0)" y="4.62" text-anchor="middle" direction="rtl" style='font-family:"Liberation Sans","DejaVu Sans",sans-serif;font-size:14px;font-weight:bold'>م/احمد</text>
<text id="t100" transform="translate(912.50,849.90) scale(0.8228,1.0)" y="4.62" text-anchor="middle" direction="rtl" style='font-family:"Liberation Sans","DejaVu Sans",sans-serif;font-size:14px;font-weight:bold'>عبدالغفار</text>
<text id="t101" transform="translate(912.50,869.90) scale(0.9768,1.0)" y="4.62" text-anchor="middle" direction="rtl" style='font-family:"Liberation Sans","DejaVu Sans",sans-serif;font-size:14px;font-weight:bold'>Room</text>
<text id="t102" transform="translate(912.50,889.90) scale(1.0381,1.0)" y="4.62" text-anchor="middle" direction="rtl" style='font-family:"Liberation Sans","DejaVu Sans",sans-serif;font-size:14px;font-weight:bold'>216</text>
<text id="t103" transform="translate(911.50,997.22) scale(0.9583,1.0)" y="3.73" text-anchor="middle" direction="rtl" style='font-family:"Liberation Sans","DejaVu Sans",sans-serif;font-size:11.3px;font-weight:normal' stroke="#000" stroke-width="0.3">هندسة كهربية</text>
<text id="t104" transform="translate(911.50,1012.47) scale(0.9350,1.0)" y="3.73" text-anchor="middle" direction="rtl" style='font-family:"Liberation Sans","DejaVu Sans",sans-serif;font-size:11.3px;font-weight:normal' stroke="#000" stroke-width="0.3">و ميكانيكية</text>
<text id="t105" transform="translate(911.50,1027.72) scale(0.9671,1.0)" y="3.73" text-anchor="middle" direction="rtl" style='font-family:"Liberation Sans","DejaVu Sans",sans-serif;font-size:11.3px;font-weight:normal' stroke="#000" stroke-width="0.3">م/ زينب &amp;</text>
<text id="t106" transform="translate(911.50,1042.97) scale(0.9109,1.0)" y="3.73" text-anchor="middle" direction="rtl" style='font-family:"Liberation Sans","DejaVu Sans",sans-serif;font-size:11.3px;font-weight:normal' stroke="#000" stroke-width="0.3">م/ امير</text>
<text id="t107" transform="translate(911.50,1058.22) scale(0.9976,1.0)" y="3.73" text-anchor="middle" direction="rtl" style='font-family:"Liberation Sans","DejaVu Sans",sans-serif;font-size:11.3px;font-weight:normal' stroke="#000" stroke-width="0.3">Room 102</text>
<text id="t108" transform="translate(911.50,1073.47) scale(1.0238,1.0)" y="3.73" text-anchor="middle" direction="ltr" style='font-family:"Liberation Sans","DejaVu Sans",sans-serif;font-size:11.3px;font-weight:normal' stroke="#000" stroke-width="0.3">Room  &amp;</text>
<text id="t109" transform="translate(911.50,1088.72) scale(0.9014,1.0)" y="3.73" text-anchor="middle" direction="rtl" style='font-family:"Liberation Sans","DejaVu Sans",sans-serif;font-size:11.3px;font-weight:normal' stroke="#000" stroke-width="0.3">109</text>
<text id="t110" transform="translate(911.50,1201.60) scale(0.9583,1.0)" y="3.73" text-anchor="middle" direction="rtl" style='font-family:"Liberation Sans","DejaVu Sans",sans-serif;font-size:11.3px;font-weight:normal' stroke="#000" stroke-width="0.3">هندسة كهربية</text>
<text id="t111" transform="translate(911.50,1216.85) scale(0.9350,1.0)" y="3.73" text-anchor="middle" direction="rtl" style='font-family:"Liberation Sans","DejaVu Sans",sans-serif;font-size:11.3px;font-weight:normal' stroke="#000" stroke-width="0.3">و ميكانيكية</text>
<text id="t112" transform="translate(911.50,1232.10) scale(0.9671,1.0)" y="3.73" text-anchor="middle" direction="rtl" style='font-family:"Liberation Sans","DejaVu Sans",sans-serif;font-size:11.3px;font-weight:normal' stroke="#000" stroke-width="0.3">م/ زينب &amp;</text>
<text id="t113" transform="translate(911.50,1247.35) scale(0.9109,1.0)" y="3.73" text-anchor="middle" direction="rtl" style='font-family:"Liberation Sans","DejaVu Sans",sans-serif;font-size:11.3px;font-weight:normal' stroke="#000" stroke-width="0.3">م/ امير</text>
<text id="t114" transform="translate(911.50,1262.60) scale(0.9976,1.0)" y="3.73" text-anchor="middle" direction="rtl" style='font-family:"Liberation Sans","DejaVu Sans",sans-serif;font-size:11.3px;font-weight:normal' stroke="#000" stroke-width="0.3">Room 102</text>
<text id="t115" transform="translate(911.50,1277.85) scale(1.0238,1.0)" y="3.73" text-anchor="middle" direction="ltr" style='font-family:"Liberation Sans","DejaVu Sans",sans-serif;font-size:11.3px;font-weight:normal' stroke="#000" stroke-width="0.3">Room  &amp;</text>
<text id="t116" transform="translate(911.50,1293.10) scale(0.9014,1.0)" y="3.73" text-anchor="middle" direction="rtl" style='font-family:"Liberation Sans","DejaVu Sans",sans-serif;font-size:11.3px;font-weight:normal' stroke="#000" stroke-width="0.3">109</text>
<text id="t117" transform="translate(843.50,588.48) scale(0.9583,1.0)" y="3.73" text-anchor="middle" direction="rtl" style='font-family:"Liberation Sans","DejaVu Sans",sans-serif;font-size:11.3px;font-weight:normal' stroke="#000" stroke-width="0.3">هندسة كهربية</text>
<text id="t118" transform="translate(843.50,603.73) scale(0.9350,1.0)" y="3.73" text-anchor="middle" direction="rtl" style='font-family:"Liberation Sans","DejaVu Sans",sans-serif;font-size:11.3px;font-weight:normal' stroke="#000" stroke-width="0.3">و ميكانيكية</text>
<text id="t119" transform="translate(843.50,618.98) scale(0.9671,1.0)" y="3.73" text-anchor="middle" direction="rtl" style='font-family:"Liberation Sans","DejaVu Sans",sans-serif;font-size:11.3px;font-weight:normal' stroke="#000" stroke-width="0.3">م/ زينب &amp;</text>
<text id="t120" transform="translate(843.50,634.23) scale(0.9109,1.0)" y="3.73" text-anchor="middle" direction="rtl" style='font-family:"Liberation Sans","DejaVu Sans",sans-serif;font-size:11.3px;font-weight:normal' stroke="#000" stroke-width="0.3">م/ امير</text>
<text id="t121" transform="translate(843.50,649.48) scale(0.9976,1.0)" y="3.73" text-anchor="middle" direction="rtl" style='font-family:"Liberation Sans","DejaVu Sans",sans-serif;font-size:11.3px;font-weight:normal' stroke="#000" stroke-width="0.3">Room 102</text>
<text id="t122" transform="translate(843.50,664.73) scale(1.0238,1.0)" y="3.73" text-anchor="middle" direction="ltr" style='font-family:"Liberation Sans","DejaVu Sans",sans-serif;font-size:11.3px;font-weight:normal' stroke="#000" stroke-width="0.3">Room  &amp;</text>
<text id="t123" transform="translate(843.50,679.98) scale(0.9014,1.0)" y="3.73" text-anchor="middle" direction="rtl" style='font-family:"Liberation Sans","DejaVu Sans",sans-serif;font-size:11.3px;font-weight:normal' stroke="#000" stroke-width="0.3">109</text>
<text id="t124" transform="translate(843.50,792.85) scale(0.9583,1.0)" y="3.73" text-anchor="middle" direction="rtl" style='font-family:"Liberation Sans","DejaVu Sans",sans-serif;font-size:11.3px;font-weight:normal' stroke="#000" stroke-width="0.3">هندسة كهربية</text>
<text id="t125" transform="translate(843.50,808.10) scale(0.9350,1.0)" y="3.73" text-anchor="middle" direction="rtl" style='font-family:"Liberation Sans","DejaVu Sans",sans-serif;font-size:11.3px;font-weight:normal' stroke="#000" stroke-width="0.3">و ميكانيكية</text>
<text id="t126" transform="translate(843.50,823.35) scale(0.9671,1.0)" y="3.73" text-anchor="middle" direction="rtl" style='font-family:"Liberation Sans","DejaVu Sans",sans-serif;font-size:11.3px;font-weight:normal' stroke="#000" stroke-width="0.3">م/ زينب &amp;</text>
<text id="t127" transform="translate(843.50,838.60) scale(0.9109,1.0)" y="3.73" text-anchor="middle" direction="rtl" style='font-family:"Liberation Sans","DejaVu Sans",sans-serif;font-size:11.3px;font-weight:normal' stroke="#000" stroke-width="0.3">م/ امير</text>
<text id="t128" transform="translate(843.50,853.85) scale(0.9976,1.0)" y="3.73" text-anchor="middle" direction="rtl" style='font-family:"Liberation Sans","DejaVu Sans",sans-serif;font-size:11.3px;font-weight:normal' stroke="#000" stroke-width="0.3">Room 102</text>
<text id="t129" transform="translate(843.50,869.10) scale(1.0238,1.0)" y="3.73" text-anchor="middle" direction="ltr" style='font-family:"Liberation Sans","DejaVu Sans",sans-serif;font-size:11.3px;font-weight:normal' stroke="#000" stroke-width="0.3">Room  &amp;</text>
<text id="t130" transform="translate(843.50,884.35) scale(0.9014,1.0)" y="3.73" text-anchor="middle" direction="rtl" style='font-family:"Liberation Sans","DejaVu Sans",sans-serif;font-size:11.3px;font-weight:normal' stroke="#000" stroke-width="0.3">109</text>
<text id="t131" transform="translate(577.25,565.52) scale(0.8737,1.0)" y="4.62" text-anchor="middle" direction="rtl" style='font-family:"Liberation Sans","DejaVu Sans",sans-serif;font-size:14px;font-weight:bold'>هندسة</text>
<text id="t132" transform="translate(577.25,585.52) scale(0.8253,1.0)" y="4.62" text-anchor="middle" direction="rtl" style='font-family:"Liberation Sans","DejaVu Sans",sans-serif;font-size:14px;font-weight:bold'>شبكات</text>
<text id="t133" transform="translate(577.25,605.52) scale(0.7355,1.0)" y="4.62" text-anchor="middle" direction="rtl" style='font-family:"Liberation Sans","DejaVu Sans",sans-serif;font-size:14px;font-weight:bold'>الرى</text>
<text id="t134" transform="translate(577.25,625.52) scale(0.9713,1.0)" y="4.62" text-anchor="middle" direction="rtl" style='font-family:"Liberation Sans","DejaVu Sans",sans-serif;font-size:14px;font-weight:bold'>م/</text>
<text id="t135" transform="translate(577.25,645.52) scale(0.8969,1.0)" y="4.62" text-anchor="middle" direction="rtl" style='font-family:"Liberation Sans","DejaVu Sans",sans-serif;font-size:14px;font-weight:bold'>محمد</text>
<text id="t136" transform="translate(577.25,665.52) scale(0.8028,1.0)" y="4.62" text-anchor="middle" direction="rtl" style='font-family:"Liberation Sans","DejaVu Sans",sans-serif;font-size:14px;font-weight:bold'>صبرى</text>
<text id="t137" transform="translate(577.25,685.52) scale(0.9768,1.0)" y="4.62" text-anchor="middle" direction="rtl" style='font-family:"Liberation Sans","DejaVu Sans",sans-serif;font-size:14px;font-weight:bold'>Room</text>
<text id="t138" transform="translate(577.25,705.52) scale(1.0060,1.0)" y="4.62" text-anchor="middle" direction="rtl" style='font-family:"Liberation Sans","DejaVu Sans",sans-serif;font-size:14px;font-weight:bold'>222</text>
<text id="t139" transform="translate(2088.25,940.30) rotate(-90) scale(0.8586,1.0)" y="6.48" text-anchor="middle" direction="rtl" style='font-family:"Liberation Sans","DejaVu Sans",sans-serif;font-size:24px;font-weight:normal' stroke="#000" stroke-width="0.5">ريادة اعمال والمشروعات الصغيره  - ( د/ نبيل شلبى ) -  مدرج (<tspan style="font-size:20.9px">401</tspan>)</text>
<text id="t140" transform="translate(1719.25,941.00) rotate(-90) scale(0.8360,1.0)" y="6.21" text-anchor="middle" direction="rtl" style='font-family:"Liberation Sans","DejaVu Sans",sans-serif;font-size:23px;font-weight:bold' stroke="#000" stroke-width="0.35">هندسة شبكات الرى  - (أ.م.د/ محمد طارق شمعه )- مدرج (<tspan style="font-size:20.0px">402</tspan>)</text>
<text id="t141" transform="translate(1447.00,941.00) rotate(-90) scale(0.8180,1.0)" y="6.21" text-anchor="middle" direction="rtl" style='font-family:"Liberation Sans","DejaVu Sans",sans-serif;font-size:23px;font-weight:bold' stroke="#000" stroke-width="0.35">تحليل منشآت باستخدام الحاسب - ( د/ سامح لطفى ) - مدرج (<tspan style="font-size:20.0px">401</tspan>)</text>
<text id="t142" transform="translate(1379.25,940.80) rotate(-90) scale(0.8505,1.0)" y="6.21" text-anchor="middle" direction="rtl" style='font-family:"Liberation Sans","DejaVu Sans",sans-serif;font-size:23px;font-weight:bold' stroke="#000" stroke-width="0.35">تصميم منشآت خرسانية <tspan style="font-size:20.0px">3</tspan>  - (أ.د/احمد يوسف ) -  مدرج (<tspan style="font-size:20.0px">401</tspan>)</text>
<text id="t143" transform="translate(979.38,939.60) rotate(-90) scale(0.8042,1.0)" y="6.21" text-anchor="middle" direction="rtl" style='font-family:"Liberation Sans","DejaVu Sans",sans-serif;font-size:23px;font-weight:bold' stroke="#000" stroke-width="0.35">ادارة مشروعات وتشييد  -  ( د/ اسراء جار العلم ) - مدرج (<tspan style="font-size:20.0px">402</tspan>)</text>
<text id="t144" transform="translate(707.25,940.30) rotate(-90) scale(0.8362,1.0)" y="6.21" text-anchor="middle" direction="rtl" style='font-family:"Liberation Sans","DejaVu Sans",sans-serif;font-size:23px;font-weight:bold' stroke="#000" stroke-width="0.35">منشات معدنية <tspan style="font-size:20.0px">1</tspan>  -   (ا.م.د/ فكري سالم) - مدرج (<tspan style="font-size:20.0px">402</tspan>)</text>
<text id="t145" transform="translate(639.12,944.00) rotate(-90) scale(0.8098,1.0)" y="6.21" text-anchor="middle" direction="rtl" style='font-family:"Liberation Sans","DejaVu Sans",sans-serif;font-size:23px;font-weight:bold' stroke="#000" stroke-width="0.35">هندسه كهربية و ميكانيكيه  - (أ.د/عبد عبدالباقي + د/ وليد شعبان ) - مدرج (<tspan style="font-size:20.0px">402</tspan>)</text>
<text id="t146" transform="translate(2005.50,395.50) scale(0.8632,1.0)" y="6.50" text-anchor="middle" direction="rtl" style='font-family:"DejaVu Sans",sans-serif;font-size:25px;font-weight:bold'>السبـــــت</text>
<g clip-path="url(#tc)"><text id="t147" transform="translate(2154.35,441.50) rotate(90)" y="7.21" text-anchor="start" direction="ltr" style='font-family:"Liberation Serif","DejaVu Sans",serif;font-size:21.33px;font-weight:bold'>10.40-9.00</text></g>
<g clip-path="url(#tc)"><text id="t148" transform="translate(2086.35,441.50) rotate(90)" y="7.21" text-anchor="start" direction="ltr" style='font-family:"Liberation Serif","DejaVu Sans",serif;font-size:21.33px;font-weight:bold'>12.25-10.45</text></g>
<g clip-path="url(#tc)"><text id="t149" transform="translate(2003.85,441.50) rotate(90)" y="7.21" text-anchor="start" direction="ltr" style='font-family:"Liberation Serif","DejaVu Sans",serif;font-size:21.33px;font-weight:bold'>2.10-12.30</text></g>
<g clip-path="url(#tc)"><text id="t150" transform="translate(1921.35,441.50) rotate(90)" y="7.21" text-anchor="start" direction="ltr" style='font-family:"Liberation Serif","DejaVu Sans",serif;font-size:21.33px;font-weight:bold'>3.55-2.15</text></g>
<g clip-path="url(#tc)"><text id="t151" transform="translate(1853.10,441.50) rotate(90)" y="7.21" text-anchor="start" direction="ltr" style='font-family:"Liberation Serif","DejaVu Sans",serif;font-size:21.33px;font-weight:bold'>5.40-4.00</text></g>
<text id="t152" transform="translate(1650.75,395.50) scale(0.9377,1.0)" y="6.50" text-anchor="middle" direction="rtl" style='font-family:"DejaVu Sans",sans-serif;font-size:25px;font-weight:bold'>الاحـــــد</text>
<g clip-path="url(#tc)"><text id="t153" transform="translate(1785.10,441.50) rotate(90)" y="7.21" text-anchor="start" direction="ltr" style='font-family:"Liberation Serif","DejaVu Sans",serif;font-size:21.33px;font-weight:bold'>10.40-9.00</text></g>
<g clip-path="url(#tc)"><text id="t154" transform="translate(1717.35,441.50) rotate(90)" y="7.21" text-anchor="start" direction="ltr" style='font-family:"Liberation Serif","DejaVu Sans",serif;font-size:21.33px;font-weight:bold'>12.25-10.45</text></g>
<g clip-path="url(#tc)"><text id="t155" transform="translate(1649.35,441.50) rotate(90)" y="7.21" text-anchor="start" direction="ltr" style='font-family:"Liberation Serif","DejaVu Sans",serif;font-size:21.33px;font-weight:bold'>2.10-12.30</text></g>
<g clip-path="url(#tc)"><text id="t156" transform="translate(1581.35,441.50) rotate(90)" y="7.21" text-anchor="start" direction="ltr" style='font-family:"Liberation Serif","DejaVu Sans",serif;font-size:21.33px;font-weight:bold'>3.55-2.15</text></g>
<g clip-path="url(#tc)"><text id="t157" transform="translate(1513.10,441.50) rotate(90)" y="7.21" text-anchor="start" direction="ltr" style='font-family:"Liberation Serif","DejaVu Sans",serif;font-size:21.33px;font-weight:bold'>5.40-4.00</text></g>
<text id="t158" transform="translate(1295.62,395.50) scale(0.8841,1.0)" y="6.50" text-anchor="middle" direction="rtl" style='font-family:"DejaVu Sans",sans-serif;font-size:25px;font-weight:bold'>الاثـنيـــــن</text>
<g clip-path="url(#tc)"><text id="t159" transform="translate(1445.10,441.50) rotate(90)" y="7.21" text-anchor="start" direction="ltr" style='font-family:"Liberation Serif","DejaVu Sans",serif;font-size:21.33px;font-weight:bold'>10.40-9.00</text></g>
<g clip-path="url(#tc)"><text id="t160" transform="translate(1377.35,441.50) rotate(90)" y="7.21" text-anchor="start" direction="ltr" style='font-family:"Liberation Serif","DejaVu Sans",serif;font-size:21.33px;font-weight:bold'>12.25-10.45</text></g>
<g clip-path="url(#tc)"><text id="t161" transform="translate(1294.35,441.50) rotate(90)" y="7.21" text-anchor="start" direction="ltr" style='font-family:"Liberation Serif","DejaVu Sans",serif;font-size:21.33px;font-weight:bold'>2.10-12.30</text></g>
<g clip-path="url(#tc)"><text id="t162" transform="translate(1211.35,441.50) rotate(90)" y="7.21" text-anchor="start" direction="ltr" style='font-family:"Liberation Serif","DejaVu Sans",serif;font-size:21.33px;font-weight:bold'>3.55-2.15</text></g>
<g clip-path="url(#tc)"><text id="t163" transform="translate(1142.97,441.50) rotate(90)" y="7.21" text-anchor="start" direction="ltr" style='font-family:"Liberation Serif","DejaVu Sans",serif;font-size:21.33px;font-weight:bold'>5.40-4.00</text></g>
<text id="t164" transform="translate(925.88,395.50) scale(0.9429,1.0)" y="6.50" text-anchor="middle" direction="rtl" style='font-family:"DejaVu Sans",sans-serif;font-size:25px;font-weight:bold'>الثلاثـــــاء</text>
<g clip-path="url(#tc)"><text id="t165" transform="translate(1059.97,441.50) rotate(90)" y="7.21" text-anchor="start" direction="ltr" style='font-family:"Liberation Serif","DejaVu Sans",serif;font-size:21.33px;font-weight:bold'>10.40-9.00</text></g>
<g clip-path="url(#tc)"><text id="t166" transform="translate(977.48,441.50) rotate(90)" y="7.21" text-anchor="start" direction="ltr" style='font-family:"Liberation Serif","DejaVu Sans",serif;font-size:21.33px;font-weight:bold'>12.25-10.45</text></g>
<g clip-path="url(#tc)"><text id="t167" transform="translate(909.60,441.50) rotate(90)" y="7.21" text-anchor="start" direction="ltr" style='font-family:"Liberation Serif","DejaVu Sans",serif;font-size:21.33px;font-weight:bold'>2.10-12.30</text></g>
<g clip-path="url(#tc)"><text id="t168" transform="translate(841.60,441.50) rotate(90)" y="7.21" text-anchor="start" direction="ltr" style='font-family:"Liberation Serif","DejaVu Sans",serif;font-size:21.33px;font-weight:bold'>3.55-2.15</text></g>
<g clip-path="url(#tc)"><text id="t169" transform="translate(773.48,441.50) rotate(90)" y="7.21" text-anchor="start" direction="ltr" style='font-family:"Liberation Serif","DejaVu Sans",serif;font-size:21.33px;font-weight:bold'>5.40-4.00</text></g>
<text id="t170" transform="translate(574.38,395.50) scale(0.9233,1.0)" y="6.50" text-anchor="middle" direction="rtl" style='font-family:"DejaVu Sans",sans-serif;font-size:25px;font-weight:bold'>الأربعـــــاء</text>
<g clip-path="url(#tc)"><text id="t171" transform="translate(705.35,441.50) rotate(90)" y="7.21" text-anchor="start" direction="ltr" style='font-family:"Liberation Serif","DejaVu Sans",serif;font-size:21.33px;font-weight:bold'>10.40-9.00</text></g>
<g clip-path="url(#tc)"><text id="t172" transform="translate(637.23,441.50) rotate(90)" y="7.21" text-anchor="start" direction="ltr" style='font-family:"Liberation Serif","DejaVu Sans",serif;font-size:21.33px;font-weight:bold'>12.25-10.45</text></g>
<g clip-path="url(#tc)"><text id="t173" transform="translate(554.35,441.50) rotate(90)" y="7.21" text-anchor="start" direction="ltr" style='font-family:"Liberation Serif","DejaVu Sans",serif;font-size:21.33px;font-weight:bold'>2.10-12.30</text></g>
<g clip-path="url(#tc)"><text id="t174" transform="translate(480.60,441.50) rotate(90)" y="7.21" text-anchor="start" direction="ltr" style='font-family:"Liberation Serif","DejaVu Sans",serif;font-size:21.33px;font-weight:bold'>3.55-2.15</text></g>
<g clip-path="url(#tc)"><text id="t175" transform="translate(430.60,441.50) rotate(90)" y="7.21" text-anchor="start" direction="ltr" style='font-family:"Liberation Serif","DejaVu Sans",serif;font-size:21.33px;font-weight:bold'>5.40-4.00</text></g>
<text id="t176" transform="translate(294.50,395.50) scale(0.8705,1.0)" y="6.50" text-anchor="middle" direction="rtl" style='font-family:"DejaVu Sans",sans-serif;font-size:25px;font-weight:bold'>الخميـــــــــس</text>
<text id="t177" transform="translate(2220.00,395.00) rotate(-90) scale(0.6703,1.0)" y="5.25" text-anchor="middle" direction="rtl" style='font-family:"DejaVu Sans",sans-serif;font-size:21px;font-weight:bold'>اليوم</text>
<text id="t178" transform="translate(2217.50,481.90) rotate(-90) scale(0.9409,1.0)" y="5.13" text-anchor="middle" direction="rtl" style='font-family:"DejaVu Sans",sans-serif;font-size:19px;font-weight:normal' stroke="#000" stroke-width="0.4">الفصل</text>
<text id="t179" transform="translate(2271.00,445.00) rotate(-90) scale(0.6523,1.0)" y="5.67" text-anchor="middle" direction="rtl" style='font-family:"DejaVu Sans",sans-serif;font-size:21px;font-weight:bold'>الفرقة</text>
<text id="t180" transform="translate(2272.50,940.60) rotate(-90) scale(0.7649,1.0)" y="5.94" text-anchor="middle" direction="rtl" style='font-family:"DejaVu Sans",sans-serif;font-size:22px;font-weight:bold'>الثالث مدنى</text>
<text id="t181" transform="translate(2217.00,635.92)" y="8.11" text-anchor="middle" direction="ltr" style='font-family:"Liberation Serif","DejaVu Sans",serif;font-size:24px;font-weight:normal' stroke="#000" stroke-width="0.5">1</text>
<text id="t182" transform="translate(2217.00,840.30)" y="8.11" text-anchor="middle" direction="ltr" style='font-family:"Liberation Serif","DejaVu Sans",serif;font-size:24px;font-weight:normal' stroke="#000" stroke-width="0.5">2</text>
<text id="t183" transform="translate(2217.00,1044.67)" y="8.11" text-anchor="middle" direction="ltr" style='font-family:"Liberation Serif","DejaVu Sans",serif;font-size:24px;font-weight:normal' stroke="#000" stroke-width="0.5">3</text>
<text id="t184" transform="translate(2217.00,1249.05)" y="8.11" text-anchor="middle" direction="ltr" style='font-family:"Liberation Serif","DejaVu Sans",serif;font-size:24px;font-weight:normal' stroke="#000" stroke-width="0.5">4</text>
<text id="t185" transform="translate(289.60,891.60) rotate(90) scale(0.8686,1.0)" y="28.00" text-anchor="middle" direction="ltr" style='font-family:"Liberation Serif","DejaVu Sans",serif;font-size:85.5px;font-weight:bold' stroke="#000" stroke-width="2.2">REST</text>
<text id="t186" transform="translate(1181.75,236.00) scale(0.7665,1.0)" y="9.00" text-anchor="middle" direction="rtl" style='font-family:"DejaVu Sans",sans-serif;font-size:36px;font-weight:bold'>جدول الفرقة الثالثة مدني</text>
<text id="t187" transform="translate(1277.00,283.00) scale(0.7048,1.0)" y="9.00" text-anchor="middle" direction="rtl" style='font-family:"DejaVu Sans",sans-serif;font-size:36px;font-weight:bold'>الفصل الدراسي الاول</text>
<text id="t188" transform="translate(1033.00,278.50) scale(1.0102,1.0)" y="13.78" text-anchor="middle" direction="ltr" style='font-family:"Liberation Sans","DejaVu Sans",sans-serif;font-size:38.5px;font-weight:bold'>2026-2025</text>
<text id="t189" transform="translate(2326.60,207.50) scale(0.8044,1.0)" y="0.00" text-anchor="middle" direction="rtl" style='font-family:"DejaVu Sans",sans-serif;font-size:27px;font-weight:normal'>وزرة التعليم العالي</text>
<text id="t190" transform="translate(2268.00,243.20) scale(0.8546,1.0)" y="0.00" text-anchor="middle" direction="rtl" style='font-family:"DejaVu Sans",sans-serif;font-size:27px;font-weight:normal'>معهد مصر العالي للهندسة والتكنولوجيا</text>
<text id="t191" transform="translate(2331.50,274.30) scale(0.8283,1.0)" y="0.00" text-anchor="middle" direction="rtl" style='font-family:"DejaVu Sans",sans-serif;font-size:27px;font-weight:normal'>بالمنصورة</text>
<text id="t192" transform="translate(1921.00,1363.00) scale(1.0116,1.0)" y="5.25" text-anchor="middle" direction="rtl" style='font-family:"DejaVu Sans",sans-serif;font-size:21px;font-weight:bold'>لجنة الجداول</text>
<text id="t193" transform="translate(1924.00,1407.00) scale(0.8335,1.0)" y="5.25" text-anchor="middle" direction="rtl" style='font-family:"DejaVu Sans",sans-serif;font-size:21px;font-weight:bold'>د. سامح لطفى</text>
<text id="t194" transform="translate(2078.50,1448.50) scale(0.9827,1.0)" y="5.25" text-anchor="middle" direction="rtl" style='font-family:"DejaVu Sans",sans-serif;font-size:21px;font-weight:bold'>د/ احمد منتصر</text>
<text id="t195" transform="translate(2078.30,1483.00) scale(0.9121,1.0)" y="5.25" text-anchor="middle" direction="rtl" style='font-family:"DejaVu Sans",sans-serif;font-size:21px;font-weight:bold'>م.م/ احمد عبدالغفار</text>
<text id="t196" transform="translate(1675.50,1448.50) scale(0.9472,1.0)" y="5.25" text-anchor="middle" direction="rtl" style='font-family:"DejaVu Sans",sans-serif;font-size:21px;font-weight:bold'>د/ احمد سعداوى</text>
<text id="t197" transform="translate(1676.00,1483.00) scale(0.8966,1.0)" y="5.25" text-anchor="middle" direction="rtl" style='font-family:"DejaVu Sans",sans-serif;font-size:21px;font-weight:bold'>م.م/ محمود عبدالمغنى</text>
<text id="t198" transform="translate(556.40,1360.00) scale(0.9897,1.0)" y="3.00" text-anchor="middle" direction="rtl" style='font-family:"DejaVu Sans",sans-serif;font-size:12px;font-weight:bold'>اخر تعديل بتاريخ</text>
<text id="t199" transform="translate(560.00,1380.00) scale(1.2400,1.0)" y="5.19" text-anchor="middle" direction="ltr" style='font-family:"Liberation Sans","DejaVu Sans",sans-serif;font-size:14.5px;font-weight:bold'>28/8/2025</text>
<text id="t200" transform="translate(258.60,1441.00) scale(0.9160,1.0)" y="6.50" text-anchor="middle" direction="rtl" style='font-family:"DejaVu Sans",sans-serif;font-size:26px;font-weight:bold'>عميد المعهد</text>
<text id="t201" transform="translate(258.00,1499.00) scale(0.7380,1.0)" y="9.50" text-anchor="middle" direction="rtl" style='font-family:"DejaVu Sans",sans-serif;font-size:38px;font-weight:bold'>ا.د/ســـالى الغـمراوي</text>
<g fill="#000"><rect x="1854" y="1374" width="134" height="1.6"/><rect x="519" y="1387.7" width="85" height="1.6"/><rect x="185.4" y="1454.6" width="146.4" height="2.8"/><rect x="914" y="1447" width="1" height="1"/><rect x="909" y="1469" width="1" height="1"/></g>
</svg>
</body></html>
